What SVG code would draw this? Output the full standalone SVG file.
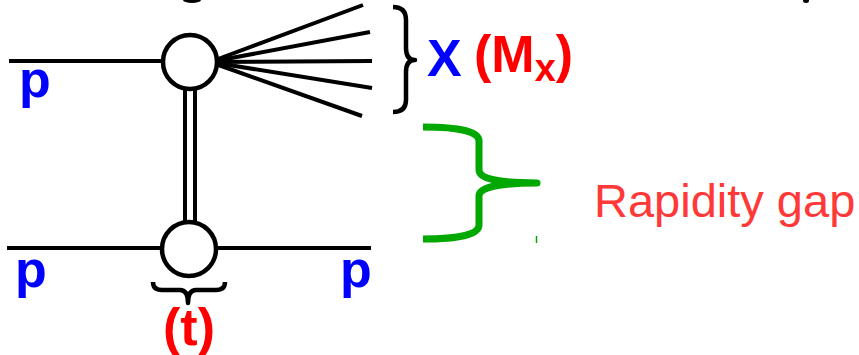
<svg xmlns="http://www.w3.org/2000/svg" width="859" height="355" viewBox="0 0 859 355">
  <style>
    .ln { stroke: #000; stroke-width: 4; fill: none; }
    .vtx { fill: #fff; stroke: #000; stroke-width: 4.5; }
    .brace { fill: none; stroke: #000; stroke-width: 4.5; stroke-linejoin: round; }
    .lab { font-family: "Liberation Sans", Arial, sans-serif; font-weight: bold; font-size: 52px; }
    .blue { fill: #0000ff; }
    .red { fill: #ff0000; }
  </style>
  <rect width="859" height="355" fill="#fff"/>
  <!-- cut-off fragments at top edge -->
  <ellipse cx="192" cy="0" rx="9" ry="3" fill="#000"/>
  <ellipse cx="806" cy="0.5" rx="3" ry="2.5" fill="#000"/>

  <g id="connectors">
    <line class="ln" x1="9" y1="61" x2="165" y2="61"/>
    <line class="ln" x1="210" y1="62" x2="363" y2="5"/>
    <line class="ln" x1="210" y1="62" x2="370" y2="32"/>
    <line class="ln" x1="210" y1="62" x2="372" y2="61"/>
    <line class="ln" x1="210" y1="62" x2="372" y2="88"/>
    <line class="ln" x1="210" y1="62" x2="362" y2="116"/>
    <line class="ln" x1="185" y1="86" x2="185" y2="226"/>
    <line class="ln" x1="195" y1="86" x2="195" y2="226"/>
    <line class="ln" x1="7" y1="248" x2="371" y2="248"/>
  </g>

  <g id="vertex-top">
    <circle class="vtx" cx="190" cy="62" r="27"/>
  </g>
  <g id="vertex-bottom">
    <circle class="vtx" cx="189" cy="249" r="27"/>
  </g>

  <g id="label-p-in-top">
    <text class="lab blue" x="19" y="97">p</text>
  </g>
  <g id="label-p-in-bottom">
    <text class="lab blue" x="15" y="287">p</text>
  </g>
  <g id="label-p-out">
    <text class="lab blue" x="340" y="287">p</text>
  </g>

  <g id="label-X">
    <path class="brace" d="M393,7 Q406,7 406,20 L406,48 Q406,60 415,60 Q406,60 406,72 L406,100 Q406,112 393,112"/>
    <text class="lab blue" x="427" y="76">X</text>
    <text class="lab red" x="474" y="72">(M<tspan font-size="38" dy="9">x</tspan><tspan dy="-9">)</tspan></text>
  </g>

  <g id="label-t">
    <path class="brace" stroke-width="4" d="M153,282 Q153,290 162,290 L180,290 Q188,290 188,303 Q188,290 196,290 L216,290 Q225,290 225,282"/>
    <text class="lab red" x="189" y="345" text-anchor="middle">(t)</text>
  </g>

  <g id="label-gap">
    <path d="M423,127 Q479,127 479,141 L479,170 Q479,183 537,183 Q479,183 479,196 L479,225 Q479,239 423,239" fill="none" stroke="#00a800" stroke-width="7" stroke-linejoin="round"/>
    <line x1="536.5" y1="236" x2="536.5" y2="243" stroke="#00a800" stroke-width="1.5"/>
    <text x="594" y="217" font-family="'Liberation Sans', Arial, sans-serif" font-size="47" fill="#ff3838">Rapidity gap</text>
  </g>
</svg>
